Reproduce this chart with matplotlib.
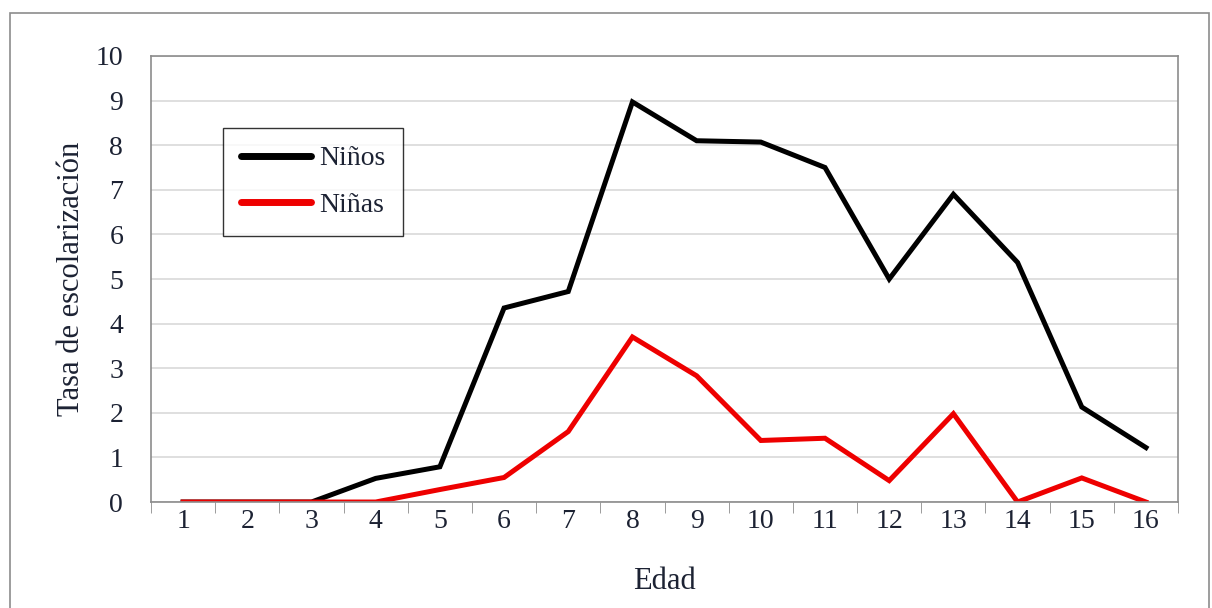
import matplotlib.pyplot as plt
from matplotlib.patches import Rectangle

edad = list(range(1, 17))
ninos = [0, 0, 0, 0.53, 0.79, 4.35, 4.72, 8.97, 8.1, 8.07, 7.5, 5.0, 6.9, 5.37, 2.13, 1.22]
ninas = [0, 0, 0, 0, 0.28, 0.55, 1.58, 3.7, 2.83, 1.38, 1.43, 0.48, 1.98, 0, 0.54, 0]

plt.rcParams['font.family'] = ['Liberation Serif', 'DejaVu Serif']
txt = '#1c2233'

fig = plt.figure(figsize=(12.12, 6.08), dpi=100)
ax = fig.add_axes([0.1246, 0.1743, 0.8474, 0.7336])

# outer frame around the whole chart
fig.patches.append(Rectangle((10 / 1212, -0.01), 1199 / 1212, 1 - 13 / 608 + 0.01,
                             transform=fig.transFigure, fill=False,
                             edgecolor='#8c8c8c', linewidth=1.2))

ax.plot(edad, ninos, color='black', linewidth=3.6, label='Niños', solid_joinstyle='miter')
ax.plot(edad, ninas, color='#ee0000', linewidth=3.6, label='Niñas', solid_joinstyle='miter')

ax.set_xlim(0.5, 16.5)
ax.set_ylim(0, 10)
ax.set_yticks(range(0, 11))
ax.set_xticks(edad)
ax.set_xticks([x + 0.5 for x in range(0, 17)], minor=True)
ax.tick_params(axis='x', which='major', length=0, pad=5, labelsize=20, labelcolor=txt)
ax.tick_params(axis='x', which='minor', length=8, color='#8c8c8c', direction='out')
ax.tick_params(axis='y', length=0, pad=20, labelsize=20, labelcolor=txt)

ax.grid(axis='y', color='#d9d9d9', linewidth=1.2)
ax.set_axisbelow(True)
for s in ax.spines.values():
    s.set_color('#8c8c8c')
    s.set_linewidth(1.2)

ax.set_ylabel('Tasa de escolarización', fontsize=22, color=txt, labelpad=7)
ax.set_xlabel('Edad', fontsize=22, color=txt, labelpad=24)

leg = ax.legend(loc='upper left', bbox_to_anchor=(0.0701, 0.8386), fontsize=20,
                frameon=True, fancybox=False, edgecolor='black', handlelength=2.5,
                handletextpad=0.3, borderpad=0.65, labelspacing=0.75, labelcolor=txt,
                borderaxespad=0)
leg.get_frame().set_linewidth(1.0)
for line in leg.get_lines():
    line.set_linewidth(5)
    line.set_solid_capstyle('round')

fig.savefig('out.png', dpi=100)
